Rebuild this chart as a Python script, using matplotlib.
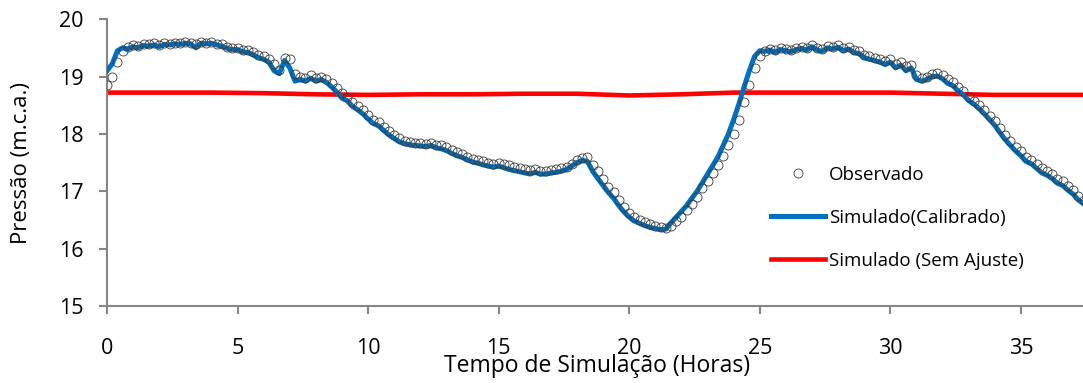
import numpy as np
import matplotlib
matplotlib.use('Agg')
import matplotlib.pyplot as plt

plt.rcParams['font.family'] = ['Open Sans', 'DejaVu Sans']

# hours, sampled every 0.2 h
horas = np.round(np.arange(0, 37.41, 0.2), 1)

observado = [
    18.85, 19.00, 19.25, 19.45, 19.52, 19.55, 19.53, 19.57, 19.56, 19.58,
    19.55, 19.58, 19.57, 19.59, 19.58, 19.60, 19.59, 19.56, 19.60, 19.59,
    19.60, 19.57, 19.56, 19.52, 19.50, 19.50, 19.47, 19.46, 19.42, 19.38,
    19.35, 19.30, 19.22, 19.12, 19.32, 19.30, 19.05, 19.00, 18.98, 19.02,
    18.97, 19.00, 18.95, 18.88, 18.80, 18.72, 18.65, 18.55, 18.48, 18.42,
    18.33, 18.25, 18.20, 18.12, 18.05, 17.98, 17.92, 17.88, 17.86, 17.85,
    17.84, 17.83, 17.85, 17.81, 17.80, 17.77, 17.72, 17.68, 17.65, 17.60,
    17.56, 17.54, 17.52, 17.50, 17.48, 17.50, 17.47, 17.45, 17.42, 17.40,
    17.38, 17.37, 17.38, 17.36, 17.35, 17.37, 17.38, 17.40, 17.42, 17.48,
    17.55, 17.58, 17.60, 17.45, 17.35, 17.22, 17.08, 16.98, 16.85, 16.72,
    16.62, 16.55, 16.50, 16.46, 16.43, 16.40, 16.38, 16.36, 16.40, 16.48,
    16.55, 16.68, 16.78, 16.90, 17.05, 17.18, 17.32, 17.45, 17.62, 17.80,
    18.00, 18.25, 18.55, 18.85, 19.15, 19.35, 19.45, 19.48, 19.46, 19.50,
    19.48, 19.47, 19.50, 19.52, 19.50, 19.55, 19.50, 19.48, 19.53, 19.52,
    19.55, 19.50, 19.52, 19.47, 19.45, 19.38, 19.35, 19.33, 19.30, 19.27,
    19.30, 19.22, 19.25, 19.18, 19.20, 19.02, 18.98, 19.00, 19.04, 19.06,
    19.02, 18.95, 18.90, 18.82, 18.75, 18.65, 18.58, 18.50, 18.42, 18.32,
    18.22, 18.10, 17.98, 17.88, 17.78, 17.70, 17.60, 17.55, 17.48, 17.40,
    17.35, 17.30, 17.22, 17.18, 17.10, 17.02, 16.92, 16.85,
]

calibrado = [
    19.10, 19.22, 19.45, 19.50, 19.48, 19.52, 19.50, 19.54, 19.53, 19.55,
    19.52, 19.56, 19.55, 19.57, 19.56, 19.58, 19.57, 19.50, 19.58, 19.57,
    19.58, 19.55, 19.53, 19.49, 19.47, 19.47, 19.43, 19.42, 19.38, 19.33,
    19.30, 19.25, 19.10, 19.05, 19.28, 19.15, 18.92, 18.95, 18.92, 18.97,
    18.92, 18.95, 18.90, 18.82, 18.73, 18.62, 18.58, 18.48, 18.42, 18.35,
    18.26, 18.18, 18.14, 18.06, 17.98, 17.92, 17.86, 17.83, 17.81, 17.80,
    17.79, 17.78, 17.80, 17.76, 17.74, 17.71, 17.66, 17.62, 17.59, 17.55,
    17.51, 17.49, 17.46, 17.44, 17.42, 17.44, 17.41, 17.38, 17.36, 17.34,
    17.32, 17.30, 17.33, 17.30, 17.30, 17.32, 17.33, 17.35, 17.38, 17.44,
    17.50, 17.54, 17.52, 17.35, 17.22, 17.10, 16.98, 16.88, 16.75, 16.64,
    16.55, 16.48, 16.44, 16.40, 16.37, 16.35, 16.33, 16.34, 16.45, 16.55,
    16.65, 16.75, 16.88, 17.00, 17.15, 17.30, 17.45, 17.60, 17.80, 18.00,
    18.25, 18.52, 18.82, 19.10, 19.35, 19.45, 19.44, 19.46, 19.42, 19.47,
    19.45, 19.43, 19.47, 19.49, 19.46, 19.52, 19.46, 19.44, 19.50, 19.48,
    19.51, 19.45, 19.48, 19.42, 19.40, 19.33, 19.30, 19.28, 19.25, 19.21,
    19.25, 19.15, 19.20, 19.10, 19.15, 18.95, 18.92, 18.95, 19.00, 19.01,
    18.96, 18.88, 18.84, 18.75, 18.68, 18.58, 18.52, 18.44, 18.35, 18.25,
    18.15, 18.02, 17.90, 17.80, 17.70, 17.62, 17.52, 17.48, 17.40, 17.32,
    17.28, 17.22, 17.14, 17.10, 17.02, 16.95, 16.85, 16.78,
]

horas_sem = [0, 2, 4, 6, 8, 10, 12, 14, 16, 18, 20, 22, 24, 26, 28, 30, 32, 34, 36, 37.4]
sem_ajuste = [18.72, 18.72, 18.72, 18.71, 18.69, 18.68, 18.69, 18.69, 18.70, 18.70,
              18.67, 18.69, 18.72, 18.72, 18.72, 18.72, 18.70, 18.68, 18.68, 18.68]

xticks = [0, 5, 10, 15, 20, 25, 30, 35]
yticks = [15, 16, 17, 18, 19, 20]

fig = plt.figure(figsize=(10.83, 3.83), dpi=100)
ax = fig.add_axes([0.0988, 0.201, 0.9012, 0.749])

ax.plot(horas_sem, sem_ajuste, color='#FF0000', lw=3.3, zorder=2, label='Simulado (Sem Ajuste)')
ax.plot(horas, calibrado, color='#0070C0', lw=3.6, zorder=3, label='Simulado(Calibrado)')
ax.plot(horas, observado, ls='none', marker='o', ms=6.5, mfc='none', mec='#3a3a3a', mew=0.6,
        zorder=4, label='Observado')

ax.set_xlim(0, 37.38)
ax.set_ylim(15, 20)
ax.set_xticks(xticks)
ax.set_yticks(yticks)

for s in ['top', 'right']:
    ax.spines[s].set_visible(False)
for s in ['left', 'bottom']:
    ax.spines[s].set_color('#868686')
    ax.spines[s].set_linewidth(1.5)

ax.tick_params(axis='y', direction='out', length=6, width=1.5, color='#868686',
               labelsize=15.5, pad=11)
ax.tick_params(axis='x', direction='out', length=6, width=1.5, color='#868686',
               labelsize=15.5, pad=17)

fig.text(0.0203, 0.574, 'Pressão (m.c.a.)', fontsize=16, rotation=90,
         ha='center', va='center')
fig.text(0.551, 0.045, 'Tempo de Simulação (Horas)', fontsize=16.5, ha='center', va='center')

h, l = ax.get_legend_handles_labels()
order = [2, 1, 0]
ax.legend([h[i] for i in order], [l[i] for i in order], loc='upper left',
          bbox_to_anchor=(771 / 1083, 1 - 166 / 383), bbox_transform=fig.transFigure,
          frameon=False, fontsize=13.5, handlelength=2.9, handletextpad=0.2,
          labelspacing=1.32, borderpad=0, borderaxespad=0)

fig.savefig('out.png', dpi=100)
